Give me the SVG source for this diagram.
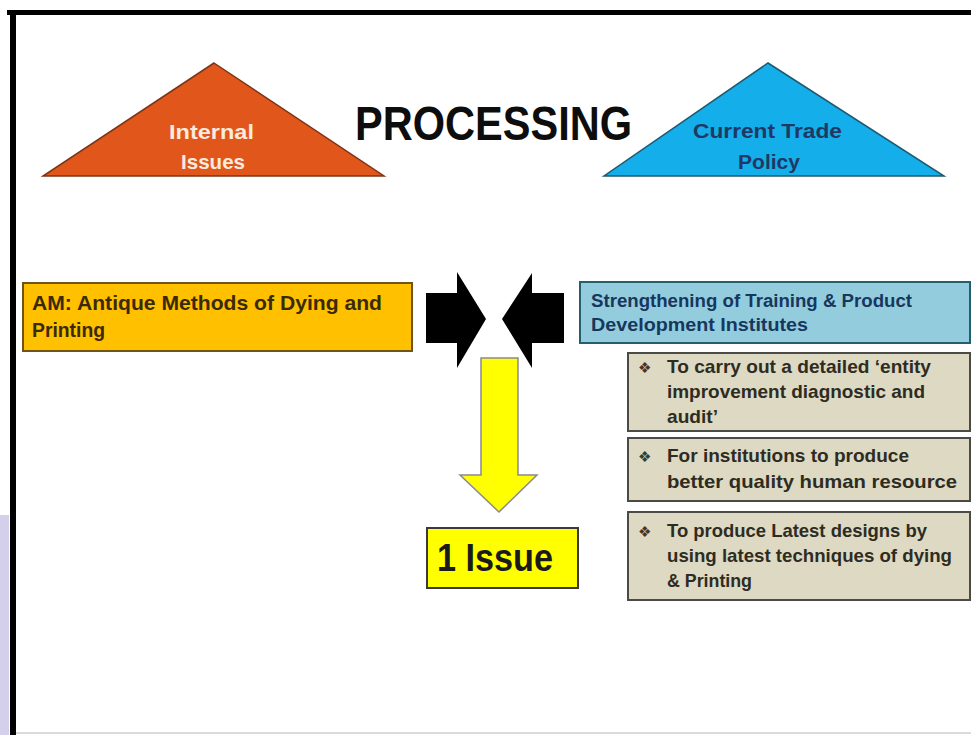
<svg xmlns="http://www.w3.org/2000/svg" width="971" height="735" viewBox="0 0 971 735">
<style>
.b{font-family:"Liberation Sans",Arial,sans-serif;font-weight:bold}
.tan{fill:#ddd9c3;stroke:#4a4a46;stroke-width:2}
.tt{font-size:18.5px;fill:#2e2c22}
.bul{font-family:"DejaVu Sans",sans-serif;font-size:15px;fill:#3a3a30}
</style>
<rect width="971" height="735" fill="#ffffff"/>
<rect x="0" y="515" width="9" height="220" fill="#d4d0ec"/>
<g id="frame">
<rect x="7" y="10" width="964" height="5" fill="#000"/>
<rect x="10" y="10" width="6" height="725" fill="#000"/>
<line x1="16" y1="733" x2="971" y2="733" stroke="#cfcfcf" stroke-width="1.5"/>
</g>
<g id="title">
<text class="b" x="355" y="140" font-size="49" fill="#0d0d0d" textLength="277" lengthAdjust="spacingAndGlyphs">PROCESSING</text>
</g>
<g id="internal-issues">
<polygon points="214,63 384,176 43,176" fill="#e0561b" stroke="#7d3414" stroke-width="1.5"/>
<text class="b" x="169" y="139" font-size="21" fill="#fbeadf" textLength="85" lengthAdjust="spacingAndGlyphs">Internal</text>
<text class="b" x="181" y="169" font-size="21" fill="#fbeadf" textLength="64" lengthAdjust="spacingAndGlyphs">Issues</text>
</g>
<g id="current-trade-policy">
<polygon points="768,63 944,176 604,176" fill="#14aeea" stroke="#1d5a72" stroke-width="1.5"/>
<text class="b" x="693" y="138" font-size="21" fill="#1f3864" textLength="149" lengthAdjust="spacingAndGlyphs">Current Trade</text>
<text class="b" x="738" y="169" font-size="21" fill="#1f3864" textLength="62" lengthAdjust="spacingAndGlyphs">Policy</text>
</g>
<g id="antique-methods">
<rect x="23" y="283" width="389" height="68" fill="#ffc000" stroke="#6e5516" stroke-width="2"/>
<text class="b" x="32" y="310" font-size="21" fill="#3a2a05" textLength="350" lengthAdjust="spacingAndGlyphs">AM: Antique Methods of Dying and</text>
<text class="b" x="32" y="337" font-size="21" fill="#3a2a05" textLength="73" lengthAdjust="spacingAndGlyphs">Printing</text>
</g>
<g id="strengthening">
<rect x="580" y="282" width="390" height="61" fill="#93cddd" stroke="#245f6e" stroke-width="2"/>
<text class="b" x="591" y="307" font-size="18" fill="#17375e" textLength="321" lengthAdjust="spacingAndGlyphs">Strengthening of Training &amp; Product</text>
<text class="b" x="591" y="331" font-size="18" fill="#17375e" textLength="217" lengthAdjust="spacingAndGlyphs">Development  Institutes</text>
</g>
<g id="bullet-1">
<rect class="tan" x="628" y="353" width="342" height="78"/>
<text class="bul" x="638" y="373">❖</text>
<text class="b tt" x="667" y="373" textLength="264" lengthAdjust="spacingAndGlyphs">To carry out a detailed ‘entity</text>
<text class="b tt" x="667" y="398" textLength="258" lengthAdjust="spacingAndGlyphs">improvement diagnostic and</text>
<text class="b tt" x="667" y="423" textLength="51" lengthAdjust="spacingAndGlyphs">audit’</text>
</g>
<g id="bullet-2">
<rect class="tan" x="628" y="438" width="342" height="63"/>
<text class="bul" x="638" y="462">❖</text>
<text class="b tt" x="667" y="462" textLength="242" lengthAdjust="spacingAndGlyphs">For institutions to produce</text>
<text class="b tt" x="667" y="488" textLength="290" lengthAdjust="spacingAndGlyphs">better quality human resource</text>
</g>
<g id="bullet-3">
<rect class="tan" x="628" y="512" width="342" height="88"/>
<text class="bul" x="638" y="537">❖</text>
<text class="b tt" x="667" y="537" textLength="260" lengthAdjust="spacingAndGlyphs">To produce Latest designs by</text>
<text class="b tt" x="667" y="562" textLength="285" lengthAdjust="spacingAndGlyphs">using latest techniques of dying</text>
<text class="b tt" x="667" y="587" textLength="85" lengthAdjust="spacingAndGlyphs">&amp; Printing</text>
</g>
<g id="one-issue">
<rect x="427" y="528" width="151" height="60" fill="#ffff00" stroke="#3a3a3a" stroke-width="2"/>
<text class="b" x="437" y="571" font-size="38" fill="#1a1a1a" textLength="116" lengthAdjust="spacingAndGlyphs">1 Issue</text>
</g>
<g id="connectors">
<polygon points="426,293 457,293 457,272 486,319 457,368 457,343 426,343" fill="#000"/>
<polygon points="564,293 532,293 532,273 502,319 532,368 532,343 564,343" fill="#000"/>
<polygon points="481,358 518,358 518,475 537,475 499,512 460,475 481,475" fill="#ffff00" stroke="#8a8a8a" stroke-width="1.5"/>
</g>
</svg>
